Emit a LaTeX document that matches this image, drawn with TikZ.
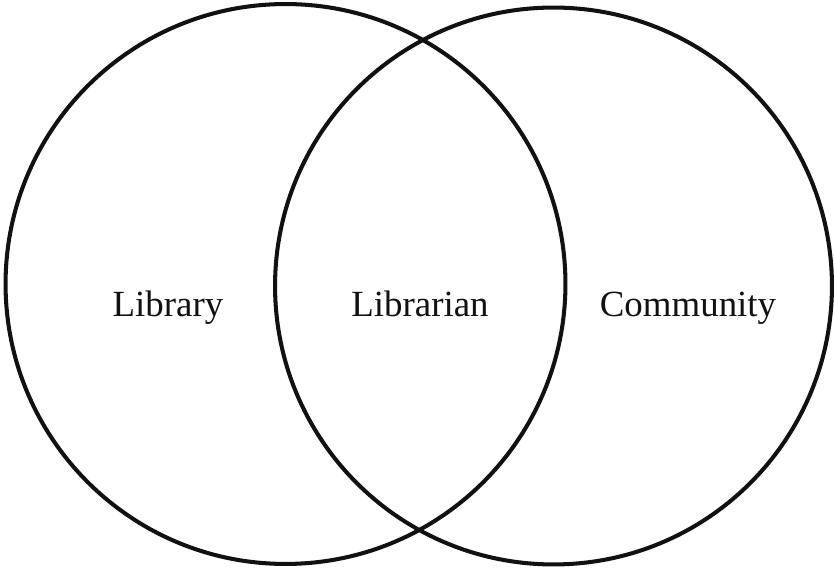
\documentclass[tikz,border=0pt]{standalone}
\usepackage{fontspec}
\setmainfont{Liberation Serif}
\usepackage{xcolor}
\usepackage{tikz}
\definecolor{vnInk}{HTML}{111111}
\tikzset{
  vn diagram/.style={x=0.02cm, y=0.02cm, text=vnInk},
  vn circle/.style={circle, draw=vnInk, line width=2.3pt, inner sep=0pt},
  vn label/.style={font=\fontsize{21}{25}\selectfont, anchor=base, inner sep=0pt}
}
\begin{document}
\begin{tikzpicture}[vn diagram]
\useasboundingbox (0,0) rectangle (835,568);
\node[vn circle, minimum size=11.2cm] (library) at (285.5,284) {};
\node[vn circle, minimum size=11.14cm] (community) at (553.5,282) {};
\node[vn label] (libraryText) at (168,251) {Library};
\node[vn label] (librarianText) at (420,251) {Librarian};
\node[vn label] (communityText) at (688,251) {Community};
\end{tikzpicture}
\end{document}
